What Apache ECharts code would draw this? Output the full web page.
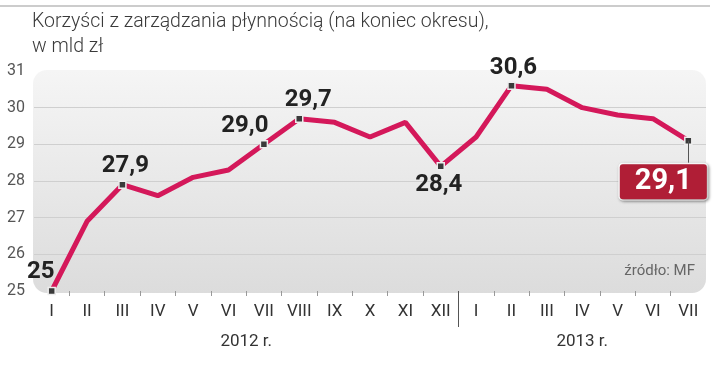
<!DOCTYPE html>
<html>
<head>
<meta charset="utf-8">
<script src="https://cdn.jsdelivr.net/npm/echarts@6/dist/echarts.min.js"></script>
<style>html,body{margin:0;padding:0;background:#fff}#c{width:720px;height:367px}</style>
</head>
<body>
<div id="c"></div>
<script>
const months = ['I','II','III','IV','V','VI','VII','VIII','IX','X','XI','XII','I','II','III','IV','V','VI','VII'];
const values = [25.0,26.9,27.9,27.6,28.1,28.3,29.0,29.7,29.6,29.2,29.6,28.4,29.2,30.6,30.5,30.0,29.8,29.7,29.1];
const labelIdx = [0,2,6,7,11,13,18];
const labelText = ['25','27,9','29,0','29,7','28,4','30,6','29,1'];
const yearLabels = ['2012 r.','2013 r.'];
const yearMonthCount = [12,7];
const yTicks = [25,26,27,28,29,30,31];

const NARROW = "'Roboto',sans-serif";
const BOLDC = "'Roboto',sans-serif";

const offsets = {0:[-11,-19],2:[3,-19],6:[-19,-18],7:[9,-19],11:[-2,19],13:[2,-18]};

const n = months.length;
const yearBoundary = yearMonthCount[0] - 0.5;
const yearCenters = [(yearMonthCount[0]-1)/2, yearMonthCount[0] + (yearMonthCount[1]-1)/2];
const monthBoundaries = [];
for (let i = 0; i < n - 1; i++) { if (i + 0.5 !== yearBoundary) monthBoundaries.push(i + 0.5); }

const seriesData = values.map((v,i)=>{
  const k = labelIdx.indexOf(i);
  if (k < 0) return {value:v, symbol:'none'};
  const item = {value:v, symbol:'rect', symbolSize:7,
    label:{show:true, position:'inside', formatter:labelText[k], fontFamily:BOLDC, fontWeight:'bold', fontSize:24, color:'#222'}};
  if (i === values.length-1) {
    Object.assign(item.label, {offset:[-25,41], color:'#fff', fontSize:29, backgroundColor:'#b01e36',
      borderColor:'#fff', borderWidth:1.5, borderRadius:3, padding:[3,10], width:67, height:29, lineHeight:29, align:'center',
      shadowBlur:3, shadowColor:'rgba(0,0,0,0.35)', shadowOffsetX:1, shadowOffsetY:1});
  } else {
    item.label.offset = offsets[i];
  }
  return item;
});

const chart = echarts.init(document.getElementById('c'), null, {renderer:'canvas'});
chart.setOption({
  animation:false,
  title:{text:'Korzyści z zarządzania płynnością (na koniec okresu),\nw mld zł', left:32, top:10, padding:0,
    textStyle:{fontFamily:NARROW, fontSize:19.5, fontWeight:300, color:'#3a3a3a', lineHeight:25}},
  grid:{left:34, right:14, top:71, bottom:76},
  graphic:[
    {type:'line', shape:{x1:0,y1:6,x2:710,y2:6}, style:{stroke:'#cccccc', lineWidth:2}, z:-10},
    {type:'rect', shape:{x:33,y:70,width:673,height:223,r:14}, z:-10,
      style:{fill:new echarts.graphic.LinearGradient(0,0,0,1,[{offset:0,color:'#f5f5f5'},{offset:1,color:'#dcdcdc'}])}},
    {type:'text', right:25, top:264, z:5, style:{text:'źródło: MF', fontFamily:NARROW, fontSize:15, fill:'#666'}}
  ],
  xAxis:[
    {type:'category', data:months, boundaryGap:true, axisLine:{show:false}, axisTick:{show:false},
      axisLabel:{fontFamily:NARROW, fontSize:17, color:'#333', margin:12, interval:0}},
    {type:'value', min:-0.5, max:n-0.5, position:'bottom', axisLine:{show:false}, splitLine:{show:false},
      axisTick:{show:true, length:5, customValues:monthBoundaries, lineStyle:{color:'#999'}},
      axisLabel:{show:false}},
    {type:'value', min:-0.5, max:n-0.5, position:'bottom', axisLine:{show:false}, splitLine:{show:false},
      axisTick:{show:true, length:36, customValues:[yearBoundary], lineStyle:{color:'#555'}},
      axisLabel:{show:true, customValues:yearCenters, fontFamily:NARROW, fontSize:17, color:'#333', margin:42,
        formatter:(v)=> v < yearBoundary ? yearLabels[0] : yearLabels[1]}}
  ],
  yAxis:{type:'value', min:yTicks[0], max:yTicks[yTicks.length-1], interval:1,
    axisLine:{show:false}, axisTick:{show:false},
    axisLabel:{fontFamily:NARROW, fontSize:16, color:'#555', margin:9},
    splitLine:{lineStyle:{color:['transparent','#cfcfcf','#cfcfcf','#cfcfcf','#cfcfcf','#cfcfcf','transparent'], width:1}}},
  series:[{
    type:'line', data:seriesData, xAxisIndex:0, showAllSymbol:true,
    lineStyle:{color:'#d4185a', width:5},
    itemStyle:{color:'#3a3a3a', borderColor:'#eee', borderWidth:1.5},
    emphasis:{disabled:true},
    markLine:{silent:true, symbol:'none', label:{show:false},
      lineStyle:{color:'#555', width:1, type:'solid'},
      data:[[{coord:[18, values[18]]},{coord:[18, 28.5]}]]}
  }]
});
</script>
</body>
</html>
